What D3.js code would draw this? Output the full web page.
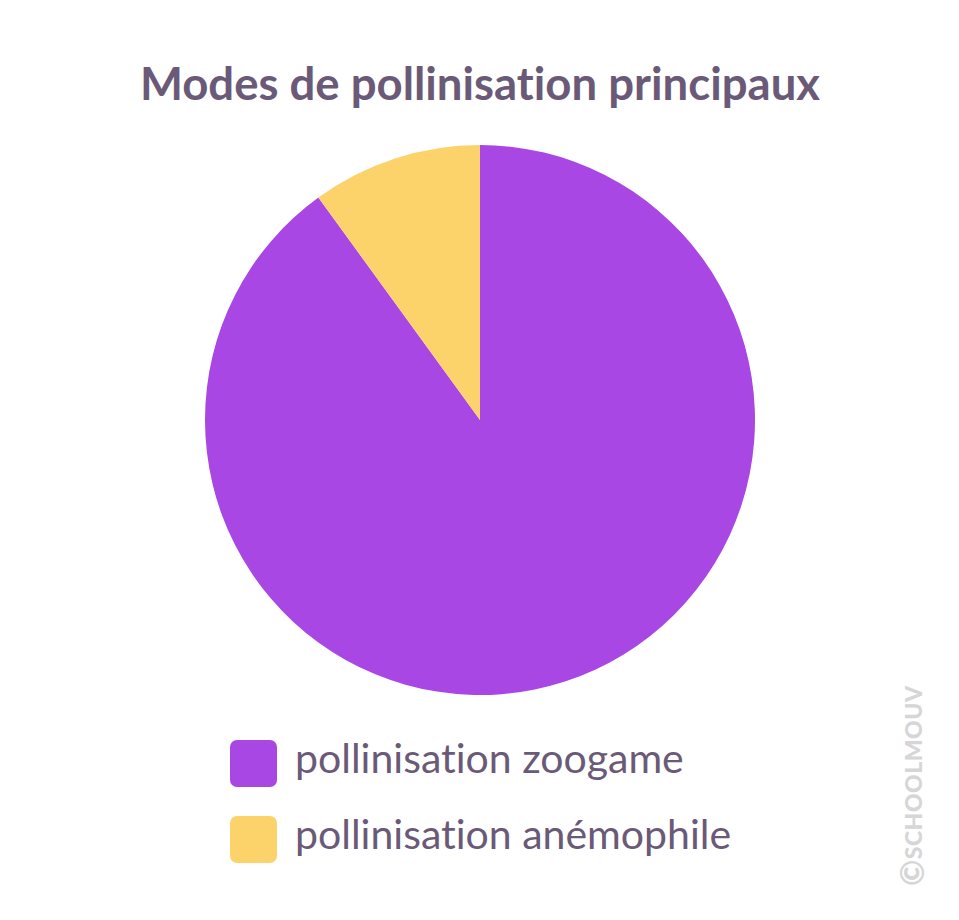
<!DOCTYPE html>
<html><head><meta charset="utf-8">
<script src="https://cdn.jsdelivr.net/npm/d3@7"></script>
<style>body{margin:0;background:#fff} text{font-variant-ligatures:none}</style>
</head><body>
<script>
const categories = ["pollinisation zoogame", "pollinisation anémophile"];
const values = [90, 10];
const colors = ["#A847E3", "#FCD36B"];
const title = "Modes de pollinisation principaux";

const W = 959, H = 920;
const svg = d3.select("body").append("svg").attr("width", W).attr("height", H);
const textColor = "#6A5A78";

svg.append("text").attr("x", 480).attr("y", 100).attr("text-anchor", "middle")
  .attr("font-family", "Lato").attr("font-weight", 700).attr("font-size", 45.5)
  .attr("fill", textColor).text(title);

const cx = 480, cy = 420, r = 275;
const pie = d3.pie().sort(null).value(d => d.v);
const arc = d3.arc().innerRadius(0).outerRadius(r);
const data = categories.map((c, i) => ({c, v: values[i], col: colors[i]}));
const g = svg.append("g").attr("transform", `translate(${cx},${cy})`);
g.selectAll("path").data(pie(data)).join("path").attr("d", arc).attr("fill", d => d.data.col);

const lg = svg.append("g");
data.forEach((d, i) => {
  const y = 740 + i * 76;
  lg.append("rect").attr("x", 230).attr("y", y).attr("width", 47).attr("height", 47)
    .attr("rx", 7).attr("fill", d.col);
  lg.append("text").attr("x", 295).attr("y", y + 33).attr("font-family", "Lato")
    .attr("font-size", 41).attr("fill", textColor).text(d.c);
});

const wm = svg.append("text").attr("transform", "translate(922,886) rotate(-90)")
  .attr("font-family", "Lato").attr("font-weight", 900).attr("font-size", 23)
  .attr("fill", "#D6D6D6").attr("letter-spacing", 0.5);
wm.append("tspan").attr("font-size", 32).attr("dy", 2).text("©");
wm.append("tspan").attr("dy", -2).text("SCHOOLMOUV");
</script>
</body></html>
